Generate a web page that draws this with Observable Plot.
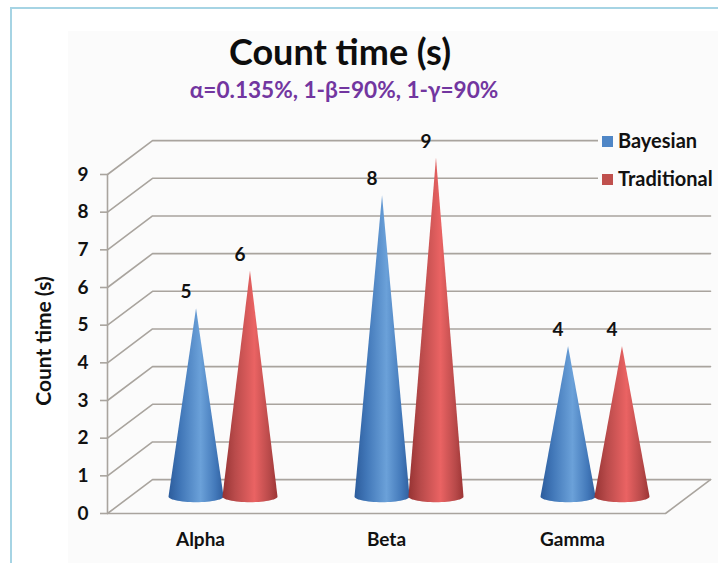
<!DOCTYPE html>
<html>
<head>
<meta charset="utf-8">
<script src="https://cdn.jsdelivr.net/npm/d3@7"></script>
<script src="https://cdn.jsdelivr.net/npm/@observablehq/plot@0.6"></script>
<style>
html,body{margin:0;padding:0;background:#fff;}
#frame{position:relative;width:718px;height:563px;overflow:hidden;font-family:Lato,sans-serif;color:#111;}
#border{position:absolute;left:10px;top:7px;width:800px;height:700px;border:2.5px solid #a6d4e4;box-sizing:border-box;}
#panel{position:absolute;left:68px;top:31px;width:650px;height:532px;background:#fbfbfb;}
#head{position:absolute;left:0;top:0;width:718px;height:100px;}
#title{position:absolute;left:0;width:680px;text-align:center;top:31px;font-size:36px;font-weight:700;line-height:40px;color:#0d0d0d;}
#subtitle{position:absolute;left:0;width:688px;text-align:center;top:77px;font-size:22.6px;font-weight:700;line-height:26px;color:#7236a0;}
#chart{position:absolute;left:0;top:100px;}
#chart svg{background:transparent;}
#legend{position:absolute;left:598px;top:125px;width:120px;height:70px;background:#fbfbfb;font-size:20px;font-weight:700;}
.item{position:absolute;left:4px;height:24px;line-height:24px;white-space:nowrap;}
.item i{display:inline-block;width:11px;height:11px;margin-right:5px;vertical-align:1px;}
</style>
</head>
<body>
<div id="frame">
  <div id="border"></div>
  <div id="panel"></div>
  <div id="chart"></div>
  <div id="head">
    <div id="title">Count time (s)</div>
    <div id="subtitle">α=0.135%, 1-β=90%, 1-γ=90%</div>
  </div>
  <div id="legend"></div>
</div>
<script>
// Data
const categories = ["Alpha", "Beta", "Gamma"];
const bayesian = [5, 8, 4];
const traditional = [6, 9, 4];
const yTicks = [0, 1, 2, 3, 4, 5, 6, 7, 8, 9];
const seriesNames = ["Bayesian", "Traditional"];
const seriesColors = ["#4f86c6", "#c0504d"];

// Oblique projection, in data units
const depthX = 0.242, depthY = 0.9;
const xCenter = i => i + 0.5 + depthX / 2;
const baseY = depthY / 2;
const coneOffset = 0.145, coneR = 0.148, coneRy = 0.15;

const gridColor = "#a9a49e";

const grid = yTicks.flatMap(v => [
  {v, x: 0, y: v},
  {v, x: depthX, y: v + depthY},
  {v, x: 3 + depthX, y: v + depthY}
]);
const floor = [
  {x: 3 + depthX, y: depthY},
  {x: 3, y: 0},
  {x: 0, y: 0}
];
const wall = [{x: 0, y: 0}, {x: 0, y: 9}];

function cone(cx, value) {
  const pts = [{x: cx, y: value + baseY}];
  for (let a = 0; a <= 180; a += 6) {
    const t = a * Math.PI / 180;
    pts.push({x: cx + coneR * Math.cos(t), y: baseY - coneRy * Math.sin(t)});
  }
  return pts;
}
const cones = [];
categories.forEach((c, i) => {
  cones.push({s: 0, value: bayesian[i], cx: xCenter(i) - coneOffset});
  cones.push({s: 1, value: traditional[i], cx: xCenter(i) + coneOffset});
});

const defs = () => {
  const s = d3.create("svg:defs");
  [["gb", "#2c5c9c", "#4177b8", "#6ba1d9", "#4379ba", "#2f5f9f"],
   ["gr", "#963333", "#b84a4a", "#ea6363", "#b94a4a", "#9c3535"]].forEach(([id, ...cols]) => {
    const g = s.append("linearGradient").attr("id", id);
    [0, 22, 58, 85, 100].forEach((o, i) =>
      g.append("stop").attr("offset", o + "%").attr("stop-color", cols[i]));
  });
  return s.node();
};

const plot = Plot.plot({
  width: 718,
  height: 463,
  marginLeft: 107,
  marginRight: 53,
  marginTop: 74,
  marginBottom: 50,
  style: {fontFamily: "Lato, sans-serif", background: "transparent", overflow: "visible"},
  x: {domain: [0, 3], axis: null},
  y: {domain: [0, 9], axis: null},
  marks: [
    defs,
    Plot.line(grid, {x: "x", y: "y", z: "v", stroke: gridColor, strokeWidth: 1.6}),
    Plot.line(floor, {x: "x", y: "y", stroke: gridColor, strokeWidth: 1.6}),
    Plot.line(wall, {x: "x", y: "y", stroke: gridColor, strokeWidth: 1.6}),
    Plot.axisY({
      ticks: yTicks, tickSize: 7, tickPadding: 12, stroke: gridColor, strokeWidth: 1.6, fill: "#111",
      fontSize: 19, fontWeight: 700, label: null
    }),
    Plot.axisX({
      ticks: categories.map((c, i) => i + 0.5), tickFormat: v => categories[Math.floor(v)],
      tickSize: 0, tickPadding: 19, fill: "#111", fontSize: 19, fontWeight: 700, label: null
    }),
    Plot.text(["Count time (s)"], {
      frameAnchor: "left", textAnchor: "middle", dx: -63, dy: -3, rotate: -90, fontSize: 21, fontWeight: 700, fill: "#111"
    }),
    ...cones.map(c => Plot.line(cone(c.cx, c.value), {
      x: "x", y: "y", fill: c.s ? "url(#gr)" : "url(#gb)", stroke: "none", curve: "linear"
    })),
    Plot.text(cones, {
      x: "cx", y: d => d.value + baseY, text: d => String(d.value),
      dx: -10, dy: -16, fontSize: 19, fontWeight: 700, fill: "#111"
    })
  ]
});
document.getElementById("chart").appendChild(plot);

const legend = document.getElementById("legend");
seriesNames.forEach((n, i) => {
  const el = document.createElement("div");
  el.className = "item";
  el.style.top = (3 + i * 38) + "px";
  el.innerHTML = `<i style="background:${seriesColors[i]}"></i>${n}`;
  legend.appendChild(el);
});
</script>
</body>
</html>
